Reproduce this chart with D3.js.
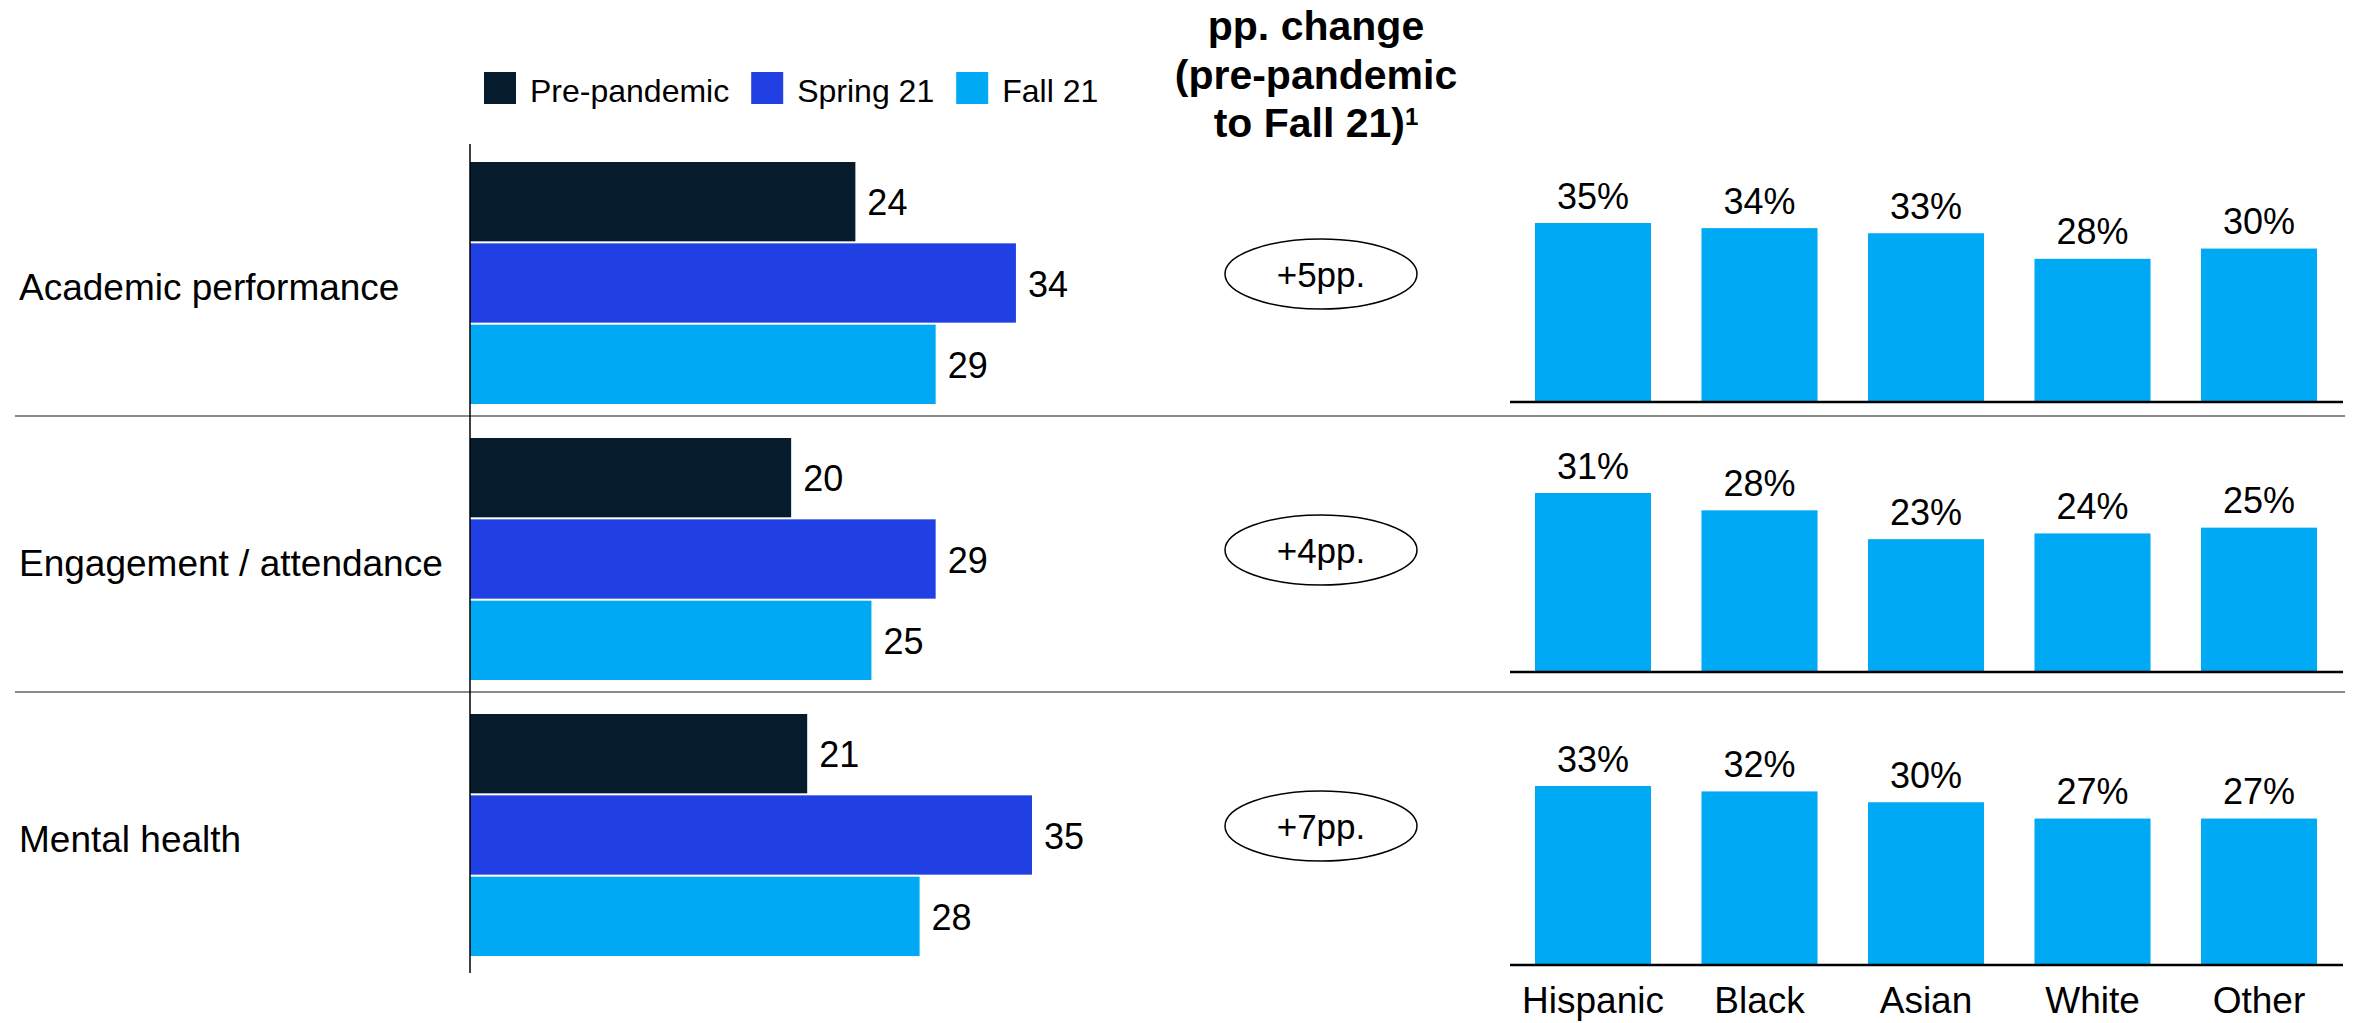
<!DOCTYPE html>
<html>
<head>
<meta charset="utf-8">
<script src="https://cdn.jsdelivr.net/npm/d3@7"></script>
<style>
  html, body { margin: 0; padding: 0; background: #ffffff; }
  svg { display: block; font-family: "Liberation Sans", Arial, sans-serif; }
</style>
</head>
<body>
<svg id="chart" width="2354" height="1023"></svg>
<script>
// ---- data ----
const categories = ["Academic performance", "Engagement / attendance", "Mental health"];
const seriesNames = ["Pre-pandemic", "Spring 21", "Fall 21"];
const prePandemic = [24, 20, 21];
const spring21 = [34, 29, 35];
const fall21 = [29, 25, 28];
const ppChange = [5, 4, 7];
const groups = ["Hispanic", "Black", "Asian", "White", "Other"];
const academicByGroup = [35, 34, 33, 28, 30];
const engagementByGroup = [31, 28, 23, 24, 25];
const mentalHealthByGroup = [33, 32, 30, 27, 27];
const titleLines = ["pp. change", "(pre-pandemic", "to Fall 21)"];

// ---- styles / layout ----
const seriesColors = ["#061c2c", "#2140e3", "#00a9f4"];
const groupColor = "#00a9f4";

const svg = d3.select("#chart");

const seriesValues = [prePandemic, spring21, fall21];
const rows = categories.map((c, i) => ({
  category: c,
  values: seriesNames.map((s, k) => ({ series: s, value: seriesValues[k][i] })),
  change: ppChange[i],
  groups: [academicByGroup, engagementByGroup, mentalHealthByGroup][i]
}));

// Row bands (each category occupies one band)
const yRow = d3.scaleBand().domain(categories).range([140, 968]).padding(0);
const blockTop = 22, blockHeight = 242;
const ySeries = d3.scaleBand().domain(seriesNames)
  .range([blockTop, blockTop + blockHeight]).paddingInner(0.025);

// Horizontal bar scale
const allLeft = prePandemic.concat(spring21, fall21);
const x = d3.scaleLinear().domain([0, d3.max(allLeft)]).range([470, 1032]);

// Separators between rows
svg.append("g").selectAll("line")
  .data(categories.slice(1))
  .join("line")
  .attr("x1", 15).attr("x2", 2345)
  .attr("y1", d => yRow(d)).attr("y2", d => yRow(d))
  .attr("stroke", "#8a8a8a").attr("stroke-width", 2);

// Left bars
const rowG = svg.append("g").selectAll("g.row")
  .data(rows)
  .join("g")
  .attr("class", "row")
  .attr("transform", d => `translate(0,${yRow(d.category)})`);

rowG.selectAll("rect")
  .data(d => d.values)
  .join("rect")
  .attr("x", x(0))
  .attr("y", d => ySeries(d.series))
  .attr("width", d => x(d.value) - x(0))
  .attr("height", ySeries.bandwidth())
  .attr("fill", (d, i) => seriesColors[i]);

rowG.selectAll("text.val")
  .data(d => d.values)
  .join("text")
  .attr("class", "val")
  .attr("x", d => x(d.value) + 12)
  .attr("y", d => ySeries(d.series) + ySeries.bandwidth() / 2)
  .attr("dy", "0.38em")
  .attr("font-size", 36)
  .attr("fill", "#000")
  .text(d => d.value);

// Category labels
rowG.append("text")
  .attr("x", 19)
  .attr("y", blockTop + blockHeight / 2)
  .attr("dy", "0.45em")
  .attr("font-size", 37)
  .attr("fill", "#000")
  .text(d => d.category);

// Vertical axis line of the left chart
svg.append("line")
  .attr("x1", x(0)).attr("x2", x(0))
  .attr("y1", 144).attr("y2", 973)
  .attr("stroke", "#000").attr("stroke-width", 1.5);

// pp. change ovals
const ovalX = 1321;
const ovals = svg.append("g").selectAll("g")
  .data(rows)
  .join("g")
  .attr("transform", d => `translate(${ovalX},${yRow(d.category) + yRow.bandwidth() / 2 - 4})`);
ovals.append("ellipse")
  .attr("rx", 96).attr("ry", 35)
  .attr("fill", "none").attr("stroke", "#000").attr("stroke-width", 1.5);
ovals.append("text")
  .attr("text-anchor", "middle")
  .attr("dy", "0.36em")
  .attr("font-size", 35)
  .attr("fill", "#000")
  .text(d => `+${d.change}pp.`);

// Column title
const title = svg.append("text")
  .attr("text-anchor", "middle")
  .attr("font-size", 41)
  .attr("font-weight", "bold")
  .attr("fill", "#000");
titleLines.forEach((t, i) => {
  title.append("tspan").attr("x", 1316).attr("y", 40 + i * 48.7).text(t);
  if (i === titleLines.length - 1) {
    title.append("tspan").attr("dy", -12).attr("font-size", 24).text("1");
  }
});

// Legend
const legend = svg.append("g");
let lx = 484;
seriesNames.forEach((s, i) => {
  legend.append("rect")
    .attr("x", lx).attr("y", 72).attr("width", 32).attr("height", 32)
    .attr("fill", seriesColors[i]);
  const t = legend.append("text")
    .attr("x", lx + 46).attr("y", 102)
    .attr("font-size", 32).attr("fill", "#000")
    .text(s);
  lx += 46 + t.node().getComputedTextLength() + 22;
});

// Right column: Fall 21 by race/ethnicity
const xg = d3.scaleBand().domain(groups).range([1510, 2342]).paddingInner(0.303).paddingOuter(0.15);
const panelBase = [402, 672, 965];
const panelHeight = 179;

rows.forEach((r, i) => {
  const base = panelBase[i];
  const yg = d3.scaleLinear().domain([0, d3.max(r.groups)]).range([base, base - panelHeight]);
  const data = groups.map((g, k) => ({ group: g, value: r.groups[k] }));
  const pg = svg.append("g");
  pg.selectAll("rect")
    .data(data)
    .join("rect")
    .attr("x", d => xg(d.group))
    .attr("y", d => yg(d.value))
    .attr("width", xg.bandwidth())
    .attr("height", d => yg(0) - yg(d.value))
    .attr("fill", groupColor);
  pg.selectAll("text")
    .data(data)
    .join("text")
    .attr("x", d => xg(d.group) + xg.bandwidth() / 2)
    .attr("y", d => yg(d.value) - 14.5)
    .attr("text-anchor", "middle")
    .attr("font-size", 36)
    .attr("fill", "#000")
    .text(d => `${d.value}%`);
  pg.append("line")
    .attr("x1", 1510).attr("x2", 2343)
    .attr("y1", base).attr("y2", base)
    .attr("stroke", "#000").attr("stroke-width", 2.5);
});

// Group labels under the last panel
svg.append("g").selectAll("text")
  .data(groups)
  .join("text")
  .attr("x", d => xg(d) + xg.bandwidth() / 2)
  .attr("y", 1013)
  .attr("text-anchor", "middle")
  .attr("font-size", 37)
  .attr("fill", "#000")
  .text(d => d);
</script>
</body>
</html>
